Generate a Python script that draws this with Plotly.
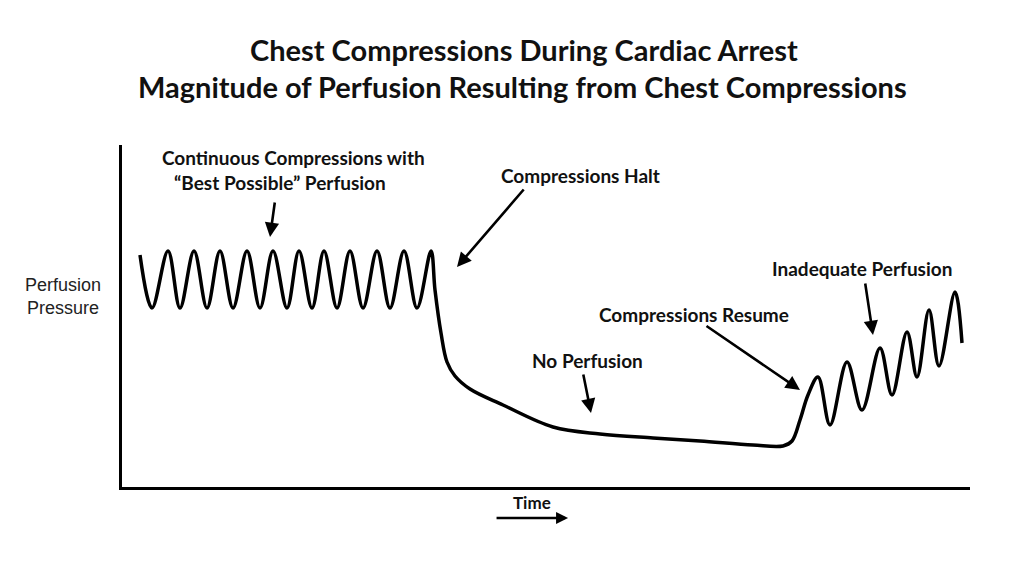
import plotly.graph_objects as go

# Schematic waveform (time units, pressure units)
time = [18, 30, 46, 58, 72, 85, 98, 111, 125, 138, 151, 165, 177, 190, 202, 215, 228, 241,
        255, 268, 282, 295, 309,
        313, 319, 325, 333, 348, 381, 431, 478, 531, 578, 631, 661,
        670, 678, 686, 696, 708, 725, 740, 758, 770, 785, 795, 807, 817, 833, 840]
pressure = [232, 179, 236, 179, 236, 179, 236, 179, 236, 179, 236, 179, 236, 179, 236, 179, 236, 179,
            236, 179, 236, 179, 236,
            197, 154, 125, 111, 98, 82, 60, 53, 49, 46, 42, 41,
            46, 67, 92, 110, 62, 125, 77, 139, 92, 155, 110, 177, 121, 195, 144]

title_lines = ["Chest Compressions During Cardiac Arrest",
               "Magnitude of Perfusion Resulting from Chest Compressions"]
y_label = "Perfusion<br>Pressure"
x_label = "Time"

# labels: text, x, y (data units)
labels = [
    ("Continuous Compressions with", 171, 330),
    ("“Best Possible” Perfusion", 158, 305),
    ("Compressions Halt", 458, 312),
    ("No Perfusion", 465, 127),
    ("Compressions Resume", 572, 173),
    ("Inadequate Perfusion", 740, 219),
]
# arrows: head x, head y, tail x, tail y
arrows = [
    (148, 250, 153, 286),
    (335, 220, 403, 299),
    (469, 74, 461, 114),
    (678, 97, 583, 162),
    (751, 152, 743, 205),
]

fig = go.Figure()
fig.add_trace(go.Scatter(x=time, y=pressure, mode="lines",
                         line=dict(color="black", width=3.5, shape="spline", smoothing=1.0),
                         hoverinfo="skip", showlegend=False))

ann = []
for txt, x, y in labels:
    ann.append(dict(x=x, y=y, xref="x", yref="y", text=txt, showarrow=False,
                    font=dict(family="Lato", size=19, color="#111", weight="bold"),
                    xanchor="center", yanchor="middle"))
for hx, hy, tx, ty in arrows:
    ann.append(dict(x=hx, y=hy, ax=tx, ay=ty, xref="x", yref="y", axref="x", ayref="y",
                    text="", showarrow=True, arrowhead=2, arrowsize=1.1, arrowwidth=2.6, arrowcolor="black"))
# axis labels (paper coords)
ann.append(dict(x=-0.0696, y=0.556, xref="paper", yref="paper", text=y_label, showarrow=False,
                font=dict(family="Liberation Sans", size=18, color="#222"), xanchor="center", yanchor="middle"))
ann.append(dict(x=0.4835, y=-0.044, xref="paper", yref="paper", text=x_label, showarrow=False,
                font=dict(family="Lato", size=17, color="#111", weight="bold"), xanchor="center", yanchor="middle"))
ann.append(dict(x=0.526, y=-0.0906, ax=-73, ay=0, xref="paper", yref="paper", axref="pixel", ayref="pixel",
                text="", showarrow=True, arrowhead=2, arrowsize=1.0, arrowwidth=2.4, arrowcolor="black"))
# title lines
ann.append(dict(x=0.474, y=1.278, xref="paper", yref="paper", text=title_lines[0], showarrow=False,
                font=dict(family="Lato", size=29, color="#111", weight="bold"), xanchor="center", yanchor="middle"))
ann.append(dict(x=0.472, y=1.170, xref="paper", yref="paper", text=title_lines[1], showarrow=False,
                font=dict(family="Lato", size=29, color="#111", weight="bold"), xanchor="center", yanchor="middle"))

fig.update_layout(
    width=1016, height=568,
    margin=dict(l=114, r=54, t=137, b=89),
    paper_bgcolor="white", plot_bgcolor="white",
    xaxis=dict(range=[0, 848], showgrid=False, zeroline=False, showticklabels=False, ticks="",
               showline=True, linecolor="black", linewidth=3),
    yaxis=dict(range=[0, 342], showgrid=False, zeroline=False, showticklabels=False, ticks="",
               showline=True, linecolor="black", linewidth=3),
    annotations=ann,
)
fig.write_html("out.html")
